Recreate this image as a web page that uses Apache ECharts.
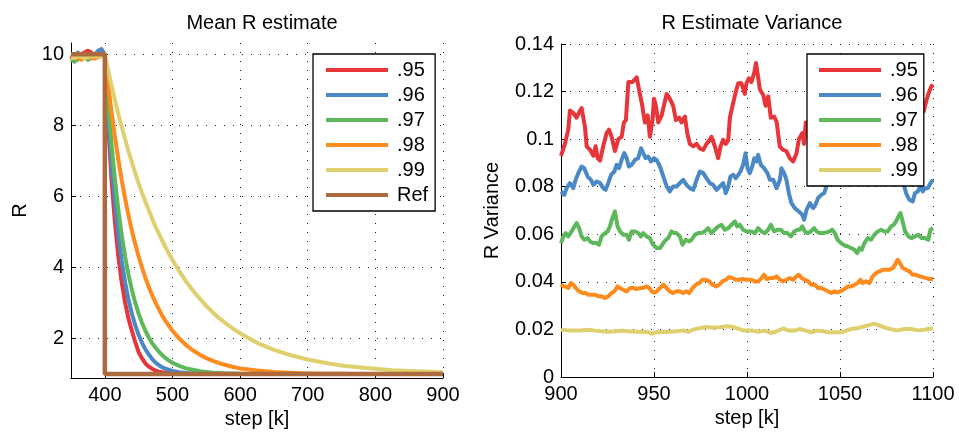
<!DOCTYPE html>
<html><head><meta charset="utf-8">
<script src="https://cdn.jsdelivr.net/npm/echarts@6/dist/echarts.min.js"></script>
<style>html,body{margin:0;padding:0;background:#fff}#c{width:959px;height:434px}</style>
</head><body><div id="c"></div>
<script>
// ---------- Left chart: Mean R estimate ----------
var stepsL = [350,355,360,365,370,375,380,385,390,395,
  400,405,410,415,420,425,430,435,440,445,450,455,460,465,470,475,480,485,490,495,500,
  510,520,530,540,550,560,570,580,590,600,
  625,650,675,700,725,750,775,800,825,850,875,900];
var meanR95 = [9.95,9.8,9.9,10.0,10.05,10.1,10.05,9.95,10.05,10.1,
  10,8.01,6.46,5.25,4.31,3.58,3.01,2.56,2.22,1.90,1.62,1.44,1.30,1.21,1.15,1.10,1.07,1.05,1.04,1.03,1.02,
  1.01,1.01,1.0,1.0,1.0,1.0,1.0,1.0,1.0,1.0,
  1.0,1.0,1.0,1.0,1.0,1.0,1.0,1.0,1.0,1.0,1.0,1.0];
var meanR96 = [10.0,9.95,10.05,9.9,9.95,9.85,9.95,10.0,10.1,10.15,
  10,8.31,6.93,5.82,4.91,4.18,3.58,3.09,2.70,2.37,2.10,1.88,1.70,1.55,1.42,1.32,1.25,1.19,1.15,1.12,1.09,
  1.05,1.03,1.02,1.01,1.0,1.0,1.0,1.0,1.0,1.0,
  1.0,1.0,1.0,1.0,1.0,1.0,1.0,1.0,1.0,1.0,1.0,1.0];
var meanR97 = [9.85,9.8,9.85,9.9,9.95,9.85,9.9,9.95,9.95,10.0,
  10,8.62,7.45,6.46,5.62,4.91,4.31,3.80,3.37,3.01,2.70,2.44,2.22,2.03,1.87,1.74,1.63,1.53,1.45,1.38,1.32,
  1.23,1.16,1.12,1.08,1.06,1.04,1.03,1.02,1.02,1.01,
  1.0,1.0,1.0,1.0,1.0,1.0,1.0,1.0,1.0,1.0,1.0,1.0];
var meanR98 = [9.9,9.95,9.9,9.85,9.9,9.95,9.9,9.88,9.92,9.95,
  10,9.14,8.37,7.67,7.03,6.46,5.94,5.47,5.04,4.66,4.31,4.00,3.71,3.45,3.22,3.01,2.82,2.64,2.49,2.35,2.22,
  2.00,1.82,1.67,1.55,1.45,1.37,1.30,1.25,1.20,1.16,
  1.10,1.06,1.04,1.02,1.01,1.01,1.0,1.0,1.0,1.0,1.0,1.0];
var meanR99 = [9.92,9.9,9.95,9.93,9.9,9.92,9.95,9.93,9.95,9.95,
  10,9.55,9.12,8.71,8.32,7.96,7.61,7.27,6.96,6.66,6.37,6.10,5.85,5.61,5.37,5.15,4.95,4.75,4.56,4.38,4.21,
  3.90,3.61,3.36,3.13,2.92,2.73,2.56,2.41,2.27,2.15,
  1.88,1.68,1.53,1.41,1.32,1.24,1.19,1.15,1.11,1.09,1.07,1.05];
var stepsRef = [350,400,400,900];
var meanRef = [10,10,1,1];
var leftXTicks = [400,500,600,700,800,900];
var leftYTicks = [2,4,6,8,10];

// ---------- Right chart: R Estimate Variance ([step, variance]) ----------
var var95 = [[900,0.093],[902.1,0.098],[903.9,0.104],[904.8,0.112],[906.6,0.111],[908.4,0.109],[910.2,0.112],[911.1,0.113],[912.9,0.105],[913.8,0.097],[915.6,0.0955],[917.4,0.093],[918.6,0.097],[919.7,0.092],[921,0.091],[922.7,0.097],[924.5,0.1025],[925.8,0.104],[927.2,0.101],[929,0.095],[930.8,0.100],[932.6,0.101],[933.8,0.107],[934.9,0.108],[936.2,0.124],[938.3,0.124],[940.7,0.126],[942.4,0.119],[943.7,0.114],[945.1,0.107],[946.6,0.110],[947.8,0.101],[949.2,0.108],[950,0.117],[951,0.114],[952.3,0.107],[954.1,0.110],[955.3,0.114],[956.8,0.119],[958.5,0.117],[960.3,0.114],[961.8,0.108],[963.6,0.109],[964.8,0.107],[966.6,0.1095],[967.9,0.1025],[969.3,0.098],[971.1,0.097],[972.9,0.098],[974.7,0.096],[976.5,0.0955],[978.2,0.098],[980,0.0997],[980.9,0.101],[982.7,0.097],[984.5,0.092],[985.8,0.097],[987.2,0.0997],[988.6,0.098],[989.9,0.0997],[990.8,0.109],[992.2,0.114],[994,0.120],[995.3,0.1235],[997,0.1235],[998.8,0.119],[999.7,0.1235],[1001,0.1256],[1002.4,0.124],[1003.9,0.128],[1004.8,0.132],[1006,0.126],[1006.9,0.121],[1008.7,0.1186],[1010,0.114],[1011.4,0.118],[1012.8,0.109],[1014.6,0.1095],[1015.9,0.1074],[1017.6,0.097],[1019.4,0.0955],[1021.2,0.095],[1023,0.092],[1024.8,0.0906],[1026.6,0.094],[1027.9,0.100],[1029.7,0.1025],[1030.7,0.098],[1031.6,0.107],[1035,0.104],[1040,0.1],[1045,0.098],[1050,0.102],[1055,0.106],[1060,0.104],[1065,0.1],[1070,0.103],[1075,0.108],[1080,0.112],[1085,0.114],[1090,0.11],[1095,0.1116],[1096.3,0.1158],[1097.5,0.119],[1099,0.122],[1100,0.123]];
var var96 = [[900,0.078],[901.8,0.0766],[903,0.0794],[904.8,0.0815],[906.6,0.0794],[907.9,0.0829],[909.3,0.0857],[911.1,0.0885],[912.5,0.0878],[914.3,0.0843],[916.1,0.0829],[917.4,0.0808],[919.2,0.0822],[921,0.0815],[922.7,0.0794],[924,0.0787],[925.4,0.0815],[926.9,0.085],[928.7,0.0864],[929.9,0.0892],[931.2,0.0878],[932.6,0.0913],[934,0.0941],[935.3,0.092],[936.5,0.0885],[938,0.0892],[939.8,0.0913],[941.5,0.092],[943,0.0962],[944.2,0.0941],[945.5,0.092],[946.9,0.0927],[948.4,0.0906],[950,0.092],[951.4,0.0913],[953.2,0.0885],[955,0.0843],[956.8,0.0801],[958.5,0.078],[960.3,0.0801],[962.1,0.0801],[963.9,0.0815],[965.7,0.0829],[967.5,0.0808],[969.3,0.0794],[971.1,0.0787],[972.9,0.0829],[974.7,0.0864],[976.5,0.0857],[978.2,0.0836],[980,0.0815],[981.8,0.0808],[983.6,0.0787],[985.4,0.0801],[987.2,0.0815],[988.6,0.0773],[989.9,0.0801],[991.1,0.0843],[992.6,0.085],[994,0.0836],[995.3,0.085],[996.5,0.0864],[997.9,0.0892],[999.2,0.0941],[1000.3,0.0878],[1001.5,0.0857],[1002.8,0.0885],[1003.9,0.092],[1005.1,0.0906],[1006,0.0934],[1007.4,0.0892],[1009.2,0.0878],[1011,0.0857],[1012.3,0.0829],[1014.1,0.0829],[1015.9,0.0794],[1017.7,0.0829],[1018.5,0.0878],[1020,0.0857],[1021.2,0.0829],[1022.5,0.0773],[1023.9,0.0731],[1025.7,0.071],[1027.9,0.0696],[1029.7,0.0682],[1030.7,0.0661],[1032,0.0703],[1033.8,0.0731],[1035.6,0.071],[1036.8,0.0724],[1038.2,0.0752],[1040,0.0766],[1041.5,0.0773],[1042.7,0.0801],[1045,0.083],[1050,0.086],[1055,0.088],[1060,0.087],[1065,0.085],[1070,0.088],[1075,0.09],[1080,0.086],[1083,0.082],[1084.6,0.0801],[1085.5,0.0773],[1087.3,0.0745],[1089.1,0.0738],[1090.3,0.0773],[1091.8,0.078],[1093.2,0.0801],[1094.5,0.078],[1095.7,0.0794],[1097.2,0.0794],[1098.6,0.0815],[1100,0.0829]];
var var97 = [[900,0.0563],[901.3,0.0591],[902.5,0.0605],[903.9,0.0591],[905.7,0.0612],[907.2,0.0633],[908.4,0.0647],[909.7,0.0626],[911.1,0.0591],[912.5,0.0577],[914.3,0.0584],[915.6,0.057],[917.4,0.0563],[919.2,0.0563],[920.4,0.0556],[921.8,0.0591],[923.6,0.0605],[925.1,0.0612],[926.3,0.0633],[927.6,0.0668],[929,0.0696],[930.4,0.0633],[931.7,0.0612],[933.5,0.0598],[935.3,0.0598],[936.5,0.0577],[938,0.0612],[939.8,0.0612],[941.5,0.0605],[943,0.0591],[944.2,0.0605],[946,0.0591],[947.8,0.0584],[949.3,0.0558],[951.4,0.0542],[953.2,0.0542],[955,0.0563],[956.4,0.0577],[957.6,0.0584],[959.4,0.0612],[960.7,0.0605],[962.1,0.0605],[963.9,0.0591],[965.3,0.0556],[967.1,0.0577],[968.9,0.057],[970.2,0.0577],[972,0.0598],[973.8,0.0605],[975.6,0.0605],[977.3,0.0612],[979.1,0.0626],[980.9,0.0605],[982.7,0.0619],[984.5,0.0633],[986.3,0.064],[988.1,0.0619],[989.9,0.0626],[991.7,0.064],[993.5,0.0654],[994.7,0.0633],[996.2,0.064],[997.9,0.0619],[999.7,0.0612],[1000.6,0.0619],[1002.4,0.0612],[1004.2,0.0605],[1006,0.0626],[1007.8,0.0612],[1009.6,0.0605],[1011.4,0.0619],[1012.8,0.064],[1014.6,0.0612],[1016.4,0.0619],[1018.2,0.0619],[1020,0.0605],[1021.8,0.0605],[1023.6,0.0591],[1025.4,0.0612],[1027.1,0.0619],[1028.4,0.0619],[1029.7,0.0633],[1031.1,0.0612],[1032.5,0.0605],[1034.3,0.0612],[1036.1,0.0626],[1037.4,0.0612],[1039.1,0.0605],[1041,0.0605],[1042.7,0.0608],[1044.5,0.0612],[1045.8,0.0619],[1047.2,0.0605],[1048.7,0.0577],[1050.6,0.0563],[1052.4,0.0553],[1054.2,0.0549],[1056,0.0542],[1057.8,0.0535],[1059.2,0.0521],[1060.4,0.0542],[1061.7,0.0535],[1063.1,0.0563],[1064.9,0.0584],[1066.7,0.0577],[1068.5,0.0598],[1070.3,0.0612],[1072.1,0.0619],[1073.9,0.0612],[1075.7,0.0612],[1077.5,0.0633],[1078.9,0.064],[1080.1,0.0654],[1081.4,0.0675],[1082.5,0.0689],[1083.7,0.0654],[1085,0.0612],[1086.8,0.0591],[1088.6,0.0584],[1090.3,0.0591],[1092.1,0.0598],[1093.9,0.0584],[1095.7,0.0584],[1097.5,0.0577],[1098.6,0.0619],[1100,0.0626]];
var var98 = [[900,0.0388],[901.3,0.0381],[902.5,0.0381],[903.9,0.0374],[905.4,0.0395],[906.6,0.0388],[907.9,0.0374],[909.7,0.036],[911.5,0.0353],[913.3,0.0353],[914.7,0.0346],[916.5,0.0346],[918.3,0.0346],[920.1,0.0339],[921.8,0.0339],[923.6,0.0332],[925.4,0.0339],[927.2,0.0353],[928.7,0.036],[930.4,0.0381],[931.7,0.0374],[933.5,0.0367],[935.3,0.036],[937.1,0.0374],[938.9,0.0374],[940.7,0.037],[942.4,0.0374],[944.2,0.0374],[946,0.0381],[947.5,0.0374],[948.7,0.036],[950,0.0355],[951.4,0.036],[953.2,0.0374],[955,0.0388],[956.8,0.0374],[958.5,0.036],[960.3,0.0353],[962.1,0.036],[963.9,0.036],[965.7,0.0353],[967.5,0.036],[968.9,0.0353],[970.7,0.0374],[972.5,0.0388],[974.3,0.0395],[976.1,0.0409],[977.9,0.0409],[979.7,0.0402],[981.5,0.0388],[983.3,0.0381],[985.1,0.0388],[986.8,0.0402],[988.6,0.0409],[990.4,0.042],[992.2,0.0416],[994,0.0409],[995.8,0.0409],[997.6,0.0412],[999.7,0.0409],[1000.6,0.0416],[1002.4,0.0409],[1004.2,0.0402],[1006,0.0402],[1007.8,0.0416],[1009.2,0.043],[1010.5,0.0412],[1012.3,0.0416],[1014.1,0.0416],[1015.9,0.0423],[1017.7,0.0409],[1019.4,0.0402],[1021.2,0.0409],[1023,0.0416],[1024.8,0.0409],[1026.6,0.0423],[1027.9,0.043],[1029.3,0.0416],[1031.1,0.0409],[1032.9,0.0402],[1034.7,0.0388],[1036.5,0.0388],[1038.2,0.0374],[1040,0.0374],[1041.8,0.0367],[1043.6,0.036],[1045.4,0.0353],[1047.2,0.036],[1049,0.0356],[1050.8,0.0363],[1052.4,0.037],[1054.2,0.0381],[1056,0.0381],[1057.8,0.0388],[1059.5,0.0395],[1061,0.0409],[1062.2,0.0395],[1064,0.0402],[1065.8,0.0395],[1067.6,0.0423],[1069.4,0.0437],[1071.2,0.0444],[1073,0.0451],[1074.8,0.0451],[1076.6,0.0451],[1078.4,0.0458],[1079.6,0.0472],[1081,0.0493],[1082.3,0.0479],[1083.7,0.0458],[1085.5,0.0451],[1087.3,0.0444],[1089.1,0.043],[1090.9,0.043],[1092.7,0.0423],[1094.5,0.042],[1096.3,0.0416],[1098.1,0.0412],[1100,0.0412]];
var var99 = [[900,0.0199],[903.9,0.0196],[907.5,0.0195],[911.1,0.0196],[914.7,0.0199],[918.3,0.0195],[921.8,0.0192],[925.4,0.019],[929,0.0192],[932.6,0.0195],[936.2,0.0192],[939.8,0.019],[943.3,0.019],[946.9,0.0188],[948.7,0.0182],[951.4,0.0188],[955,0.0189],[958.5,0.019],[962.1,0.0192],[965.7,0.0196],[968.4,0.019],[971.1,0.0199],[974.7,0.0206],[978.2,0.021],[981.8,0.0207],[985.4,0.0209],[989,0.0213],[992.6,0.021],[995.3,0.0203],[997.9,0.0196],[1000.6,0.0196],[1002.4,0.0196],[1006,0.019],[1009.6,0.0195],[1013.2,0.0185],[1016.8,0.0195],[1019.4,0.0204],[1022.1,0.0196],[1025.7,0.0195],[1028.4,0.0202],[1031.1,0.0196],[1034.7,0.0188],[1037.4,0.0195],[1040.9,0.0192],[1043.6,0.0188],[1047.2,0.0188],[1050.8,0.0188],[1052.4,0.0192],[1056,0.0202],[1059.5,0.0206],[1063.1,0.0213],[1066.7,0.022],[1068.5,0.0224],[1071.2,0.0216],[1074.8,0.0206],[1078.4,0.0199],[1081,0.0196],[1084.6,0.0202],[1088.2,0.0202],[1091.8,0.0196],[1095.4,0.0199],[1098.9,0.0204],[1100,0.0204]];

var names = ['.95','.96','.97','.98','.99'];
var colors = ['#e8353a','#4a89c5','#5cb85b','#ff8a1d','#dfd06f'];
var refColor = '#ad6a3f';

var FONT = 'Liberation Sans';
function zip(xs, ys){ return xs.map(function(x,i){ return [x, ys[i]]; }); }
function plain(v){ return String(Math.round(v*1000)/1000); }
var gridLine = {show:true, lineStyle:{color:'#222', width:1, type:[1,8]}};
var axLine = {show:true, onZero:false, lineStyle:{color:'#000', width:1}};
var lbl = {fontFamily:FONT, fontSize:20, color:'#000', formatter:plain};
var nameStyle = {fontFamily:FONT, fontSize:20, color:'#000'};

var leftData = [meanR95, meanR96, meanR97, meanR98, meanR99];
var rightData = [var95, var96, var97, var98, var99];
var series = [];
leftData.forEach(function(d,i){
  series.push({type:'line', name:names[i], xAxisIndex:0, yAxisIndex:0, data:zip(stepsL,d),
    showSymbol:false, symbol:'none',
    lineStyle:{width:4, color:colors[i], join:'round'}, itemStyle:{color:colors[i]}});
});
series.push({type:'line', name:'Ref', xAxisIndex:0, yAxisIndex:0, data:zip(stepsRef,meanRef),
  showSymbol:false, symbol:'none', lineStyle:{width:4.5, color:refColor}, itemStyle:{color:refColor}});
rightData.forEach(function(d,i){
  series.push({type:'line', name:names[i], xAxisIndex:1, yAxisIndex:1, data:d,
    showSymbol:false, symbol:'none', lineStyle:{width:4, color:colors[i], join:'round'}, itemStyle:{color:colors[i]}});
});

var legendBase = {orient:'vertical', itemGap:5, itemWidth:62, itemHeight:4, icon:'rect',
  backgroundColor:'#fff', borderColor:'#000', borderWidth:1.3, borderRadius:0,
  textStyle:{fontFamily:FONT, fontSize:20, color:'#000', lineHeight:20, padding:[0,0,0,4]}};

var option = {
  animation:false,
  backgroundColor:'#fff',
  title:[
    {text:'Mean R estimate', left:257, top:8, textAlign:'center', textStyle:{fontFamily:FONT, fontSize:20, fontWeight:'normal', color:'#000'}},
    {text:'R Estimate Variance', left:747, top:8, textAlign:'center', textStyle:{fontFamily:FONT, fontSize:20, fontWeight:'normal', color:'#000'}}
  ],
  legend:[
    Object.assign({}, legendBase, {data:names.concat(['Ref']), left:313, top:54, padding:[6,7,6,13]}),
    Object.assign({}, legendBase, {data:names.slice(), left:807, top:54, padding:[6,6,6,12]})
  ],
  grid:[
    {left:71, top:43, width:372, height:335, outerBoundsMode:'none'},
    {left:561, top:44, width:372, height:333, outerBoundsMode:'none'}
  ],
  xAxis:[
    {type:'value', gridIndex:0, min:350, max:900,
     axisLine:axLine, axisTick:{show:true, inside:true, length:5, customValues:leftXTicks, lineStyle:{color:'#000'}},
     axisLabel:Object.assign({customValues:leftXTicks, margin:7}, lbl), splitLine:gridLine,
     name:'step [k]', nameLocation:'middle', nameGap:27, nameTextStyle:nameStyle},
    {type:'value', gridIndex:1, min:900, max:1100, interval:50,
     axisLine:axLine, axisTick:{show:true, inside:true, length:5, lineStyle:{color:'#000'}},
     axisLabel:Object.assign({margin:7}, lbl), splitLine:gridLine,
     name:'step [k]', nameLocation:'middle', nameGap:27, nameTextStyle:nameStyle}
  ],
  yAxis:[
    {type:'value', gridIndex:0, min:0.89, max:10.32,
     axisLine:axLine, axisTick:{show:true, inside:true, length:5, customValues:leftYTicks, lineStyle:{color:'#000'}},
     axisLabel:Object.assign({customValues:leftYTicks, margin:7}, lbl), splitLine:gridLine,
     name:'R', nameLocation:'middle', nameGap:41, nameRotate:90, nameTextStyle:nameStyle},
    {type:'value', gridIndex:1, min:0, max:0.14, interval:0.02,
     axisLine:axLine, axisTick:{show:true, inside:true, length:5, lineStyle:{color:'#000'}},
     axisLabel:Object.assign({margin:7}, lbl), splitLine:gridLine,
     name:'R Variance', nameLocation:'middle', nameGap:59, nameRotate:90, nameTextStyle:nameStyle}
  ],
  series:series
};
var chart = echarts.init(document.getElementById('c'), null, {renderer:'canvas'});
chart.setOption(option);
</script></body></html>
